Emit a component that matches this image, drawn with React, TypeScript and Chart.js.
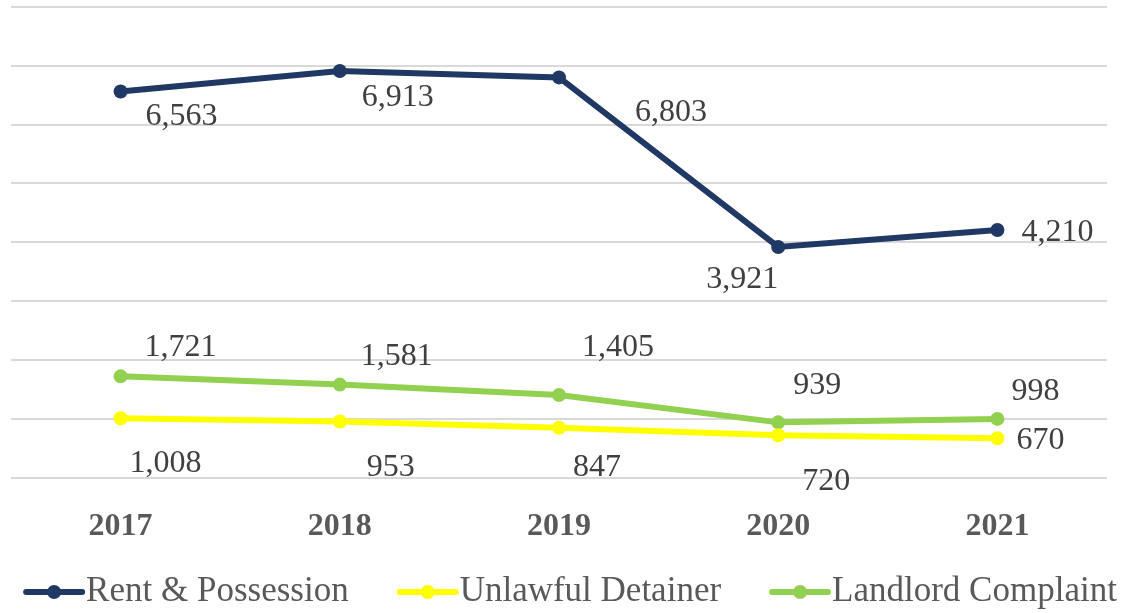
import React, { useEffect, useRef } from "react";
import { Chart, registerables } from "chart.js";

Chart.register(...registerables);

const years = ["2017", "2018", "2019", "2020", "2021"];
const rentPossession = [6563, 6913, 6803, 3921, 4210];
const unlawfulDetainer = [1008, 953, 847, 720, 670];
const landlordComplaint = [1721, 1581, 1405, 939, 998];
const seriesNames = ["Rent & Possession", "Unlawful Detainer", "Landlord Complaint"];

// label offsets (dx, dy) from each point, in px
const rentOffsets = [[61, 25], [58, 27], [112, 35], [-36, 33], [60, 3]];
const unlawfulOffsets = [[45, 45], [51, 46], [38, 40], [48, 46], [43, 2]];
const landlordOffsets = [[60, -29], [57, -28], [59, -47], [39, -37], [38, -27]];

const FONT = "'Liberation Serif', 'Times New Roman', serif";

const labelPlugin = {
  id: "valueLabels",
  afterDatasetsDraw(chart: any) {
    const ctx = chart.ctx;
    const offsets = [rentOffsets, unlawfulOffsets, landlordOffsets];
    ctx.save();
    ctx.font = `32px ${FONT}`;
    ctx.fillStyle = "#404040";
    ctx.textAlign = "center";
    ctx.textBaseline = "middle";
    chart.data.datasets.forEach((ds: any, i: number) => {
      const meta = chart.getDatasetMeta(i);
      meta.data.forEach((pt: any, j: number) => {
        const [dx, dy] = offsets[i][j];
        ctx.fillText(ds.data[j].toLocaleString("en-US"), pt.x + dx, pt.y + dy);
      });
    });
    ctx.restore();
  },
};

const legendPlugin = {
  id: "customLegend",
  afterDraw(chart: any) {
    const ctx = chart.ctx;
    ctx.save();
    ctx.font = `35px ${FONT}`;
    const lineW = 56;
    const textGap = 4;
    const itemGap = 51;
    const widths = chart.data.datasets.map((ds: any) => ctx.measureText(ds.label).width);
    const total = widths.reduce((a: number, w: number) => a + lineW + textGap + w, 0) + itemGap * (widths.length - 1);
    let x = (chart.width - total) / 2 + 8;
    const y = 592;
    chart.data.datasets.forEach((ds: any, i: number) => {
      ctx.strokeStyle = ds.borderColor;
      ctx.lineWidth = 6;
      ctx.lineCap = "round";
      ctx.beginPath();
      ctx.moveTo(x, y);
      ctx.lineTo(x + lineW, y);
      ctx.stroke();
      ctx.fillStyle = ds.borderColor;
      ctx.beginPath();
      ctx.arc(x + lineW / 2, y, 7, 0, Math.PI * 2);
      ctx.fill();
      ctx.fillStyle = "#595959";
      ctx.textAlign = "left";
      ctx.textBaseline = "middle";
      ctx.fillText(ds.label, x + lineW + textGap, y);
      x += lineW + textGap + widths[i] + itemGap;
    });
    ctx.restore();
  },
};

export default function App() {
  const ref = useRef<HTMLCanvasElement>(null);
  useEffect(() => {
    if (!ref.current) return;
    const mk = (label: string, data: number[], color: string) => ({
      label,
      data,
      borderColor: color,
      backgroundColor: color,
      borderWidth: 6,
      pointRadius: 7,
      pointHoverRadius: 7,
      pointBorderWidth: 0,
      tension: 0,
    });
    const chart = new Chart(ref.current, {
      type: "line",
      data: {
        labels: years,
        datasets: [
          mk(seriesNames[0], rentPossession, "#1F3864"),
          mk(seriesNames[1], unlawfulDetainer, "#FFFF00"),
          mk(seriesNames[2], landlordComplaint, "#92D050"),
        ],
      },
      options: {
        responsive: false,
        animation: false,
        layout: { padding: { left: 11, right: 20, top: 6, bottom: 37 } },
        plugins: {
          legend: { display: false },
          tooltip: { enabled: false },
        },
        scales: {
          x: {
            offset: true,
            grid: { display: false, drawTicks: false },
            border: { display: false },
            ticks: {
              padding: 30,
              color: "#595959",
              font: { family: FONT, size: 32, weight: "bold" },
            },
          },
          y: {
            min: 0,
            max: 8000,
            grid: { color: "#D9D9D9", lineWidth: 2, drawTicks: false },
            border: { display: false },
            ticks: { display: false, stepSize: 1000 },
          },
        },
      },
      plugins: [labelPlugin, legendPlugin],
    });
    return () => chart.destroy();
  }, []);
  return (
    <div style={{ position: "fixed", left: 0, top: 0, width: 1127, height: 613, background: "#fff" }}>
      <canvas ref={ref} width={1127} height={613} />
    </div>
  );
}
